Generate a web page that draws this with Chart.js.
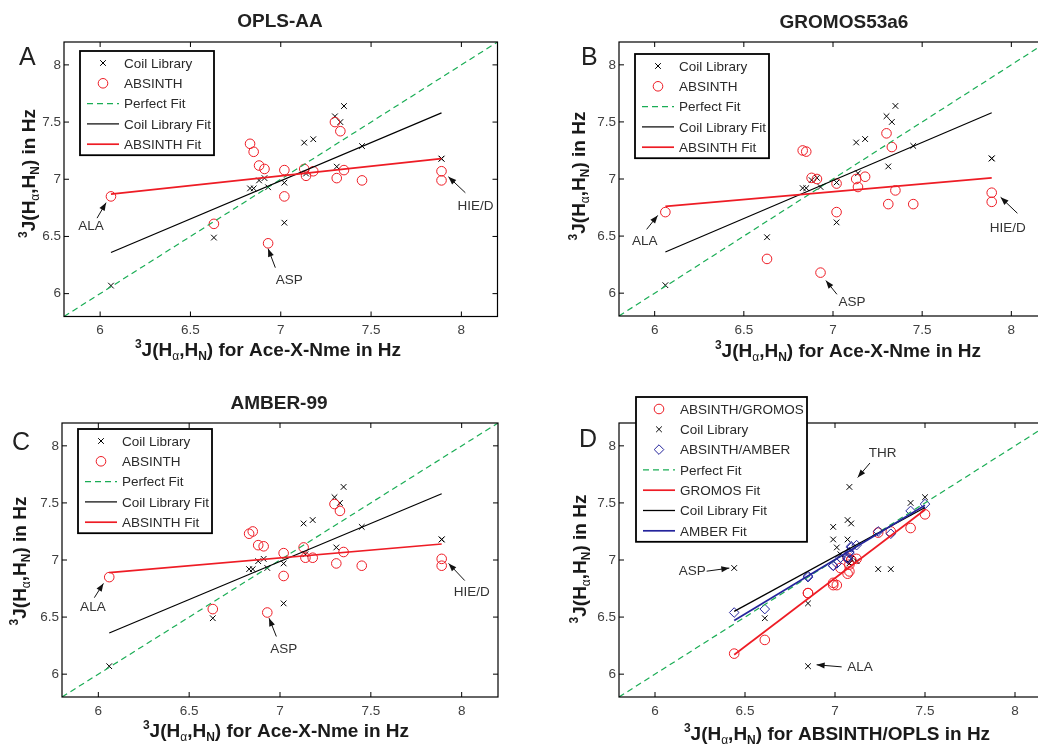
<!DOCTYPE html>
<html>
<head>
<meta charset="utf-8">
<script src="https://cdn.jsdelivr.net/npm/chart.js@4.4.0/dist/chart.umd.min.js"></script>
<style>
  html, body { margin: 0; padding: 0; background: #fff; overflow: hidden; }
  #wrap { position: relative; width: 1038px; height: 748px; overflow: hidden; }
  canvas { position: absolute; }
</style>
</head>
<body>
<div id="wrap">
  <canvas id="chartA" width="520" height="380" style="left:0;top:0"></canvas>
  <canvas id="chartB" width="540" height="380" style="left:520px;top:0"></canvas>
  <canvas id="chartC" width="520" height="368" style="left:0;top:380px"></canvas>
  <canvas id="chartD" width="540" height="368" style="left:520px;top:380px"></canvas>
</div>
<script>
// one entry per residue, same order in every array
const aceXNme   = [6.06, 6.63, 6.83, 6.85, 6.88, 6.91, 6.93, 7.02, 7.02, 7.13, 7.14, 7.18, 7.30, 7.31, 7.33, 7.35, 7.45, 7.89, 7.89];
const coilLib   = [6.07, 6.49, 6.92, 6.92, 6.99, 7.01, 6.93, 6.97, 6.62, 7.32, 7.05, 7.35, 7.55, 7.11, 7.50, 7.64, 7.29, 7.18, 7.18];
const absOPLS   = [6.85, 6.61, 7.31, 7.24, 7.12, 7.09, 6.44, 7.08, 6.85, 7.09, 7.03, 7.07, 7.50, 7.01, 7.42, 7.08, 6.99, 7.07, 6.99];
const absGROMOS = [6.71, 6.30, 7.25, 7.24, 7.01, 7.00, 6.18, 6.96, 6.71, 7.00, 6.93, 7.02, 7.40, 6.78, 7.28, 6.90, 6.78, 6.88, 6.80];
const absAMBER  = [6.85, 6.57, 7.23, 7.25, 7.13, 7.12, 6.54, 7.06, 6.86, 7.11, 7.02, 7.02, 7.49, 6.97, 7.43, 7.07, 6.95, 7.01, 6.95];

const tickVals = [6, 6.5, 7, 7.5, 8];
const axisRange = [5.8, 8.2];

// fit line end points
const fitX      = [6.06, 7.89];
const coilFit   = [6.36, 7.58];
const oplsFit   = [6.87, 7.18];
const gromosFit = [6.76, 7.01];
const amberFit  = [6.89, 7.14];
const fitXD      = [6.44, 7.50];
const gromosFitD = [6.17, 7.44];
const coilFitD   = [6.55, 7.46];
const amberFitD  = [6.47, 7.48];

const FONT = '"Liberation Sans", Arial, Helvetica, sans-serif';
const RED = '#ee1c25', GREEN = '#1aad55', BLUE = '#24249c';

// layout of each panel (canvas pixels); notes = [text, tx, ty, tailX, tailY, headX, headY] in data units
const panels = {
  chartA: { pad: [42, 22.5], yW: 64, xH: 63.5, letter: ['A', 19, 65], title: ['OPLS-AA', 280, 27],
    xLabel: [' for Ace-X-Nme in Hz', 268, 356], yLabel: [27.5, 173.5], legend: [16, 9, 134],
    notes: [['ALA', 5.95, 6.585, 5.983, 6.66, 6.033, 6.795],
            ['ASP', 7.047, 6.12, 6.97, 6.227, 6.93, 6.393],
            ['HIE/D', 8.078, 6.76, 8.022, 6.882, 7.928, 7.022]] },
  chartB: { pad: [42, 13], yW: 99, xH: 64, letter: ['B', 61, 65], title: ['GROMOS53a6', 324, 28],
    xLabel: [' for Ace-X-Nme in Hz', 328, 357], yLabel: [57.5, 176], legend: [16, 12, 134],
    notes: [['ALA', 5.944, 6.454, 5.955, 6.559, 6.017, 6.681],
            ['ASP', 7.107, 5.92, 7.022, 5.99, 6.96, 6.11],
            ['HIE/D', 7.98, 6.57, 8.034, 6.70, 7.94, 6.84]] },
  chartC: { pad: [43, 22], yW: 62, xH: 51, letter: ['C', 12, 70], title: ['AMBER-99', 279, 29],
    xLabel: [' for Ace-X-Nme in Hz', 276, 357], yLabel: [19, 181], legend: [16, 6, 134],
    notes: [['ALA', 5.97, 6.585, 5.978, 6.67, 6.028, 6.795],
            ['ASP', 7.02, 6.22, 6.98, 6.33, 6.94, 6.49],
            ['HIE/D', 8.055, 6.716, 8.017, 6.82, 7.928, 6.97]] },
  chartD: { pad: [43, 9], yW: 99, xH: 51, letter: ['D', 59, 67], title: null,
    xLabel: [' for ABSINTH/OPLS in Hz', 317, 360], yLabel: [59, 179], legend: [17, -26, 171],
    notes: [['THR', 7.265, 7.936, 7.194, 7.849, 7.126, 7.723],
            ['ASP', 6.207, 6.905, 6.287, 6.902, 6.413, 6.929],
            ['ALA', 7.139, 6.058, 7.037, 6.064, 6.898, 6.082]] }
};

const pts = (xs, ys) => xs.map((x, i) => ({ x, y: ys[i] }));

function markers(label, xs, ys, style, color, r) {
  return { label, kind: 'point', data: pts(xs, ys), showLine: false, pointStyle: style,
    pointRadius: r, pointBorderColor: color, pointBackgroundColor: 'rgba(0,0,0,0)', pointBorderWidth: 1 };
}
function line(label, xs, ys, color, width, dash) {
  return { label, kind: 'line', data: pts(xs, ys), showLine: true, pointRadius: 0,
    borderColor: color, borderWidth: width, borderDash: dash || [] };
}

function glyph(ctx, style, x, y, r, color) {
  ctx.save();
  ctx.strokeStyle = color; ctx.lineWidth = 1;
  ctx.beginPath();
  if (style === 'crossRot') {
    const d = r * Math.SQRT1_2;
    ctx.moveTo(x - d, y - d); ctx.lineTo(x + d, y + d);
    ctx.moveTo(x + d, y - d); ctx.lineTo(x - d, y + d);
  } else if (style === 'circle') {
    ctx.arc(x, y, r, 0, Math.PI * 2);
  } else {
    ctx.moveTo(x, y - r); ctx.lineTo(x + r, y); ctx.lineTo(x, y + r); ctx.lineTo(x - r, y); ctx.closePath();
  }
  ctx.stroke();
  ctx.restore();
}

function labelParts(tail) {
  return [
    { t: '3', f: 'bold 12px', dy: -8 },
    { t: 'J(H', f: 'bold 19px' },
    { t: 'α', f: '12px', dy: 4 },
    { t: ',H', f: 'bold 19px' },
    { t: 'N', f: 'bold 12px', dy: 4 },
    { t: ')' + tail, f: 'bold 19px' }
  ];
}

function drawRich(ctx, parts, cx, y) {
  let total = 0;
  parts.forEach(p => { ctx.font = p.f + ' ' + FONT; total += ctx.measureText(p.t).width; });
  let x = cx - total / 2;
  ctx.textAlign = 'left'; ctx.textBaseline = 'alphabetic';
  parts.forEach(p => {
    ctx.font = p.f + ' ' + FONT;
    ctx.fillText(p.t, x, y + (p.dy || 0));
    x += ctx.measureText(p.t).width;
  });
}

function arrow(ctx, x1, y1, x2, y2) {
  const ang = Math.atan2(y2 - y1, x2 - x1), len = 8, half = 3;
  ctx.beginPath(); ctx.moveTo(x1, y1); ctx.lineTo(x2, y2); ctx.stroke();
  ctx.beginPath();
  ctx.moveTo(x2, y2);
  ctx.lineTo(x2 - len * Math.cos(ang) + half * Math.sin(ang), y2 - len * Math.sin(ang) - half * Math.cos(ang));
  ctx.lineTo(x2 - len * Math.cos(ang) - half * Math.sin(ang), y2 - len * Math.sin(ang) + half * Math.cos(ang));
  ctx.closePath(); ctx.fill();
}

const matlabLook = {
  id: 'matlabLook',
  afterDatasetsDraw(chart) {
    const p = panels[chart.canvas.id];
    const { ctx, chartArea: a } = chart;
    const sx = v => chart.scales.x.getPixelForValue(v);
    const sy = v => chart.scales.y.getPixelForValue(v);
    ctx.save();

    // frame with inward ticks on all sides
    ctx.strokeStyle = '#000'; ctx.lineWidth = 1.2;
    ctx.strokeRect(a.left, a.top, a.right - a.left, a.bottom - a.top);
    ctx.lineWidth = 1;
    ctx.beginPath();
    tickVals.forEach(v => {
      const px = sx(v), py = sy(v);
      ctx.moveTo(px, a.bottom); ctx.lineTo(px, a.bottom - 5);
      ctx.moveTo(px, a.top); ctx.lineTo(px, a.top + 5);
      ctx.moveTo(a.left, py); ctx.lineTo(a.left + 5, py);
      ctx.moveTo(a.right, py); ctx.lineTo(a.right - 5, py);
    });
    ctx.stroke();

    // annotations with arrows
    ctx.strokeStyle = '#111';
    ctx.font = '13.5px ' + FONT; ctx.textAlign = 'center'; ctx.textBaseline = 'middle';
    p.notes.forEach(n => {
      ctx.fillStyle = '#333';
      ctx.fillText(n[0], sx(n[1]), sy(n[2]));
      ctx.fillStyle = '#111';
      arrow(ctx, sx(n[3]), sy(n[4]), sx(n[5]), sy(n[6]));
    });

    // legend box
    const ds = chart.data.datasets;
    const lx = a.left + p.legend[0], ly = a.top + p.legend[1], lw = p.legend[2];
    const step = 20.3, lh = 23 + step * (ds.length - 1);
    ctx.fillStyle = '#fff';
    ctx.fillRect(lx, ly, lw, lh);
    ctx.strokeStyle = '#000'; ctx.lineWidth = 1.8;
    ctx.strokeRect(lx, ly, lw, lh);
    ctx.font = '13.5px ' + FONT; ctx.textAlign = 'left'; ctx.textBaseline = 'middle';
    ds.forEach((d, i) => {
      const y = ly + 12 + i * step;
      if (d.kind === 'point') {
        glyph(ctx, d.pointStyle, lx + 23, y, d.pointRadius, d.pointBorderColor);
      } else {
        ctx.save();
        ctx.strokeStyle = d.borderColor; ctx.lineWidth = d.borderWidth;
        ctx.setLineDash(d.borderDash);
        ctx.beginPath(); ctx.moveTo(lx + 7, y); ctx.lineTo(lx + 39, y); ctx.stroke();
        ctx.restore();
      }
      ctx.fillStyle = '#2a2a2a';
      ctx.fillText(d.label, lx + 44, y + 1);
    });

    // letter, title, axis labels
    ctx.fillStyle = '#222'; ctx.textBaseline = 'alphabetic';
    ctx.font = '25px ' + FONT; ctx.textAlign = 'left';
    ctx.fillText(p.letter[0], p.letter[1], p.letter[2]);
    if (p.title) {
      ctx.font = 'bold 19px ' + FONT; ctx.textAlign = 'center';
      ctx.fillText(p.title[0], p.title[1], p.title[2]);
    }
    ctx.fillStyle = '#1a1a1a';
    drawRich(ctx, labelParts(p.xLabel[0]), p.xLabel[1], p.xLabel[2]);
    ctx.save();
    ctx.translate(p.yLabel[0], p.yLabel[1]);
    ctx.rotate(-Math.PI / 2);
    drawRich(ctx, labelParts(' in Hz'), 0, 7);
    ctx.restore();

    ctx.restore();
  }
};

function axis(which, p) {
  return {
    type: 'linear', min: axisRange[0], max: axisRange[1],
    grid: { display: false, drawTicks: false },
    border: { display: false },
    ticks: { color: '#404040', font: { family: FONT, size: 13.5 }, padding: which === 'x' ? 6 : 3,
      maxRotation: 0, callback: v => String(v) },
    afterBuildTicks: s => { s.ticks = tickVals.map(v => ({ value: v })); },
    afterFit: s => { if (which === 'x') s.height = p.xH; else s.width = p.yW; }
  };
}

function makeChart(id, datasets) {
  const p = panels[id];
  datasets.forEach((d, i) => { d.order = -i; });
  return new Chart(document.getElementById(id), {
    type: 'scatter',
    data: { datasets },
    options: {
      responsive: false, animation: false, devicePixelRatio: 1,
      layout: { padding: { left: 0, top: p.pad[0], right: p.pad[1], bottom: 0 } },
      plugins: { legend: { display: false }, tooltip: { enabled: false } },
      scales: { x: axis('x', p), y: axis('y', p) }
    },
    plugins: [matlabLook]
  });
}

function forceFieldPanel(id, absValues, absFit) {
  makeChart(id, [
    markers('Coil Library', aceXNme, coilLib, 'crossRot', '#000', 4),
    markers('ABSINTH', aceXNme, absValues, 'circle', RED, 4.8),
    line('Perfect Fit', axisRange, axisRange, GREEN, 1.2, [6, 4]),
    line('Coil Library Fit', fitX, coilFit, '#000', 1.2),
    line('ABSINTH Fit', fitX, absFit, RED, 1.7)
  ]);
}

forceFieldPanel('chartA', absOPLS, oplsFit);
forceFieldPanel('chartB', absGROMOS, gromosFit);
forceFieldPanel('chartC', absAMBER, amberFit);

makeChart('chartD', [
  markers('ABSINTH/GROMOS', absOPLS, absGROMOS, 'circle', RED, 4.8),
  markers('Coil Library', absOPLS, coilLib, 'crossRot', '#000', 4),
  markers('ABSINTH/AMBER', absOPLS, absAMBER, 'rectRot', BLUE, 4.8),
  line('Perfect Fit', axisRange, axisRange, GREEN, 1.2, [6, 4]),
  line('GROMOS Fit', fitXD, gromosFitD, RED, 1.7),
  line('Coil Library Fit', fitXD, coilFitD, '#000', 1.3),
  line('AMBER Fit', fitXD, amberFitD, BLUE, 1.7)
]);
</script>
</body>
</html>
